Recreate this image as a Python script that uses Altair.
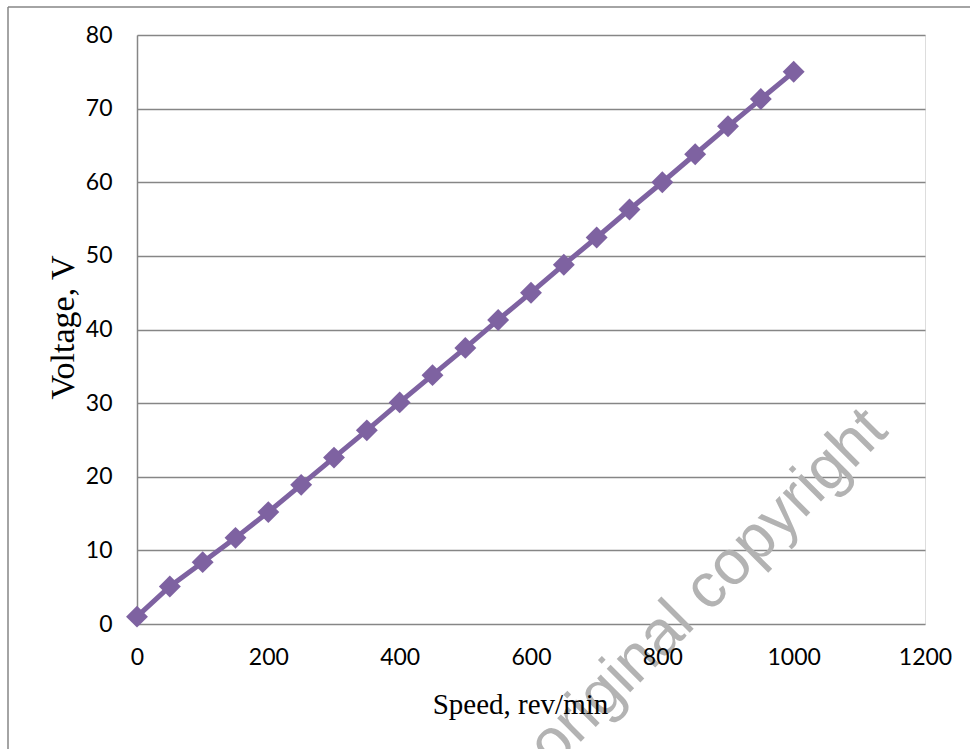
import altair as alt
import pandas as pd

speed = [0, 50, 100, 150, 200, 250, 300, 350, 400, 450, 500,
         550, 600, 650, 700, 750, 800, 850, 900, 950, 1000]
voltage = [1.0, 5.1, 8.4, 11.7, 15.2, 18.9, 22.6, 26.3, 30.1, 33.8, 37.5,
           41.3, 45.0, 48.8, 52.5, 56.3, 60.0, 63.8, 67.6, 71.3, 75.0]
x_ticks = [0, 200, 400, 600, 800, 1000, 1200]
y_ticks = [0, 10, 20, 30, 40, 50, 60, 70, 80]
watermark_text = ["original copyright"]
watermark_x = [890]
watermark_y = [3.1]

df = pd.DataFrame({"speed": speed, "voltage": voltage})
wm = pd.DataFrame({"t": watermark_text, "x": watermark_x, "y": watermark_y})

GRID = "#868686"
PURPLE = "#7E62A1"

xscale = alt.Scale(domain=[0, 1200], nice=False)
yscale = alt.Scale(domain=[0, 80], nice=False)

xaxis = alt.Axis(values=x_ticks, format="d", title="Speed, rev/min", grid=False, ticks=False,
                 domain=False, zindex=1,
                 labelFont="Lato", labelFontSize=23, labelColor="#000000",
                 labelPadding=22, labelFlush=False,
                 titleFont="Liberation Serif", titleFontSize=29, titleFontWeight="normal",
                 titleColor="#000000", titleX=383, titleY=80, titleBaseline="middle",
                 titleAlign="center")
yaxis = alt.Axis(values=y_ticks, format="d", title="Voltage, V", grid=True, gridColor=GRID,
                 gridWidth=1.5, ticks=False, domainColor=GRID, domainWidth=1.5,
                 labelFont="Lato", labelFontSize=23, labelColor="#000000",
                 labelPadding=25, labelFlush=False,
                 titleFont="Liberation Serif", titleFontSize=34, titleFontWeight="normal",
                 titleColor="#000000", titleX=-74, titleY=292, titleAngle=270,
                 titleBaseline="middle", titleAlign="center")

line = alt.Chart(df).mark_line(color=PURPLE, strokeWidth=5).encode(
    x=alt.X("speed:Q", scale=xscale, axis=xaxis),
    y=alt.Y("voltage:Q", scale=yscale, axis=yaxis),
)
points = alt.Chart(df).mark_point(shape="diamond", filled=True, color=PURPLE,
                                  size=480, opacity=1).encode(
    x=alt.X("speed:Q", scale=xscale),
    y=alt.Y("voltage:Q", scale=yscale),
)
water = alt.Chart(wm).mark_text(font="Liberation Sans", fontSize=63, color="#b3b3b3",
                                angle=315, align="center", baseline="alphabetic").encode(
    x=alt.X("x:Q", scale=xscale),
    y=alt.Y("y:Q", scale=yscale),
    text="t:N",
)
frame_left = alt.Chart(wm).mark_rule(color=GRID, strokeWidth=1.5).encode(
    x=alt.value(-129), y=alt.value(-28), y2=alt.value(720))
frame_top = alt.Chart(wm).mark_rule(color=GRID, strokeWidth=1.5).encode(
    x=alt.value(-129), x2=alt.value(840), y=alt.value(-28))

chart = alt.layer(frame_left, frame_top, water, line, points).properties(
    width=788, height=589,
    autosize=alt.AutoSizeParams(type="none"),
    padding={"left": 137, "top": 35, "right": 45, "bottom": 125},
).configure_view(stroke=None).configure(background="white")

chart.save("out.html", embed_options={"renderer": "svg", "actions": False})
